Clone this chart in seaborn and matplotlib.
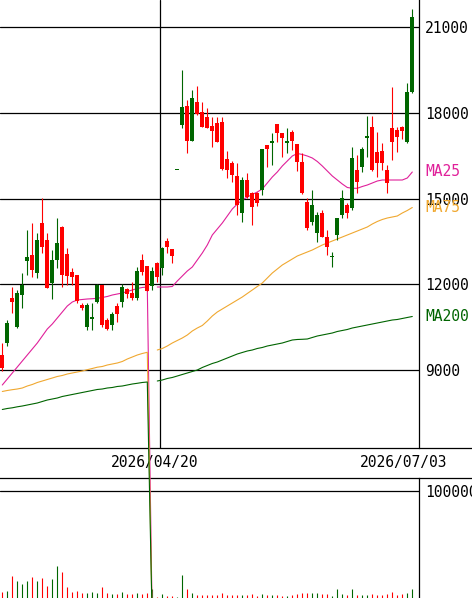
import numpy as np
import pandas as pd
import matplotlib
matplotlib.use("Agg")
import matplotlib.pyplot as plt
import matplotlib.transforms as mtransforms
import seaborn as sns

# ---------------- data ----------------
opens = [9530, 9940, 11536, 10521, 11630, 12830, 13030, 12390, 14140, 13555,
         12060, 12855, 14020, 13065, 12445, 12330, 11280, 10521, 10780, 11396,
         11980, 10755, 10580, 11245, 11396, 11840, 11710, 11515, 12855, 12645,
         11945, 12760, 12565, 13530, 13230, 16005, 17580, 18245, 17030, 18395,
         18045, 17870, 17545, 17660, 17695, 16380, 16260, 15795, 14490, 15655,
         15210, 15210, 15305, 16880, 16940, 17615, 17310, 16960, 17325, 16915,
         16295, 14895, 14195, 13790, 14490, 13670, 12945, 13730, 14430, 14780,
         14665, 16005, 16120, 17130, 17500, 16645, 16680, 16005, 17485, 17405,
         17500, 16995, 18745]
highs = [9950, 10755, 11920, 11805, 12390, 13905, 14140, 13790, 15015, 13790,
         13205, 14335, 14045, 13265, 12575, 12330, 11350, 11340, 11340, 12005,
         11980, 10825, 11045, 11340, 12005, 11875, 12095, 12620, 13055, 12645,
         12620, 12795, 13320, 13615, 13230, 16005, 19505, 18455, 18805, 18945,
         18395, 18165, 17870, 17850, 17870, 16680, 16330, 16240, 15770, 15915,
         15250, 15250, 16730, 16880, 17310, 17615, 17310, 17485, 17405, 16915,
         16590, 15025, 15305, 14535, 14605, 13905, 13145, 14315, 15305, 14850,
         16820, 16530, 16820, 17895, 17895, 17345, 16940, 16180, 18900, 17520,
         17535, 19040, 21630]
lows = [8970, 9845, 11000, 10475, 11165, 12330, 12250, 12215, 13090, 11875,
        11480, 12565, 11920, 11980, 11980, 11340, 11105, 10405, 10405, 11340,
        10521, 10405, 10405, 10695, 11220, 11515, 11455, 11455, 12330, 11770,
        11805, 12095, 12330, 13090, 12760, 16005, 17465, 16610, 17030, 17930,
        17500, 17465, 16820, 16995, 16005, 15715, 15595, 14430, 14195, 15025,
        14080, 14750, 15130, 16120, 16180, 16995, 16470, 16590, 16705, 15980,
        15150, 13905, 14080, 13495, 13670, 13030, 12620, 13555, 14315, 14315,
        14600, 15190, 15945, 16470, 15980, 15770, 16005, 15190, 16355, 16645,
        17100, 16940, 18710]
closes = [9075, 10640, 11396, 11700, 11980, 12970, 12505, 13555, 13300, 11886,
          12855, 13440, 12330, 12295, 12250, 11430, 11165, 11280, 10850, 11980,
          10580, 10430, 10955, 10965, 11920, 11665, 11515, 12480, 12445, 11770,
          12470, 12250, 13265, 13300, 12995, 16005, 18220, 17030, 18515, 17965,
          17520, 17485, 17380, 16995, 16030, 16005, 15830, 14780, 15655, 15070,
          14720, 14840, 16730, 16730, 17030, 17310, 17115, 17020, 17030, 16295,
          15200, 13965, 14780, 14430, 13670, 13320, 12995, 14315, 15015, 14490,
          16415, 15595, 16730, 17180, 16005, 16240, 16240, 15560, 16995, 17170,
          17380, 18745, 21370]
volumes = [5900, 6800, 20600, 16200, 13100, 16200, 19900, 16200, 19000, 11200,
           17800, 29900, 24600, 10600, 6000, 6800, 4400, 5000, 5600, 4400,
           10600, 5000, 3700, 3700, 5600, 3700, 3700, 5000, 3700, 5000,
           8000, 1200, 3700, 1900, 1900, 1200, 21500, 8100, 5000, 3000,
           2500, 2500, 2500, 2500, 5000, 3100, 2500, 3000, 3000, 2500,
           3500, 2000, 3500, 2500, 2500, 3000, 2000, 2000, 3000, 3500,
           4500, 5000, 5000, 4500, 3500, 4000, 2000, 8000, 4000, 2500,
           8000, 3000, 3000, 2500, 4000, 3000, 3000, 3500, 5500, 3000,
           3500, 4500, 8700]
# moving averages (the 0 at index 30 is the data glitch seen in the reference)
ma25 = [8480, 8690, 8900, 9110, 9320, 9530, 9740, 9950, 10195, 10440,
        10615, 10825, 11035, 11245, 11385, 11455, 11473, 11490, 11500, 11515,
        11543, 11578, 11630, 11665, 11700, 11753, 11805, 11858, 11893, 11910,
        0, 11910, 11910, 11910, 11928, 12120, 12295, 12470, 12610, 12855,
        13100, 13380, 13730, 13940, 14150, 14395, 14640, 14815, 14955, 15060,
        15148, 15235, 15340, 15550, 15760, 15935, 16145, 16320, 16495, 16583,
        16548, 16495, 16425, 16303, 16145, 15970, 15795, 15655, 15515, 15393,
        15365, 15365, 15428, 15480, 15550, 15620, 15655, 15655, 15655, 15655,
        15655, 15725, 15935]
ma75 = [8253, 8288, 8316, 8340, 8375, 8445, 8498, 8568, 8620, 8673,
        8725, 8778, 8813, 8865, 8900, 8935, 8970, 9016, 9058, 9103,
        9128, 9180, 9215, 9250, 9303, 9390, 9460, 9530, 9583, 9625,
        0, 9705, 9758, 9845, 9950, 10038, 10125, 10230, 10370, 10475,
        10563, 10720, 10895, 11035, 11140, 11245, 11350, 11455, 11560, 11683,
        11805, 11928, 12050, 12225, 12400, 12540, 12680, 12785, 12890, 12995,
        13065, 13135, 13205, 13293, 13380, 13450, 13520, 13590, 13660, 13730,
        13800, 13870, 13940, 14010, 14115, 14203, 14273, 14325, 14360, 14395,
        14500, 14588, 14693]
ma200 = [7623, 7658, 7682, 7717, 7745, 7780, 7815, 7850, 7903, 7955,
         7990, 8025, 8078, 8113, 8148, 8183, 8218, 8253, 8288, 8323,
         8340, 8375, 8393, 8428, 8445, 8480, 8515, 8540, 8568, 8585,
         0, 8620, 8655, 8708, 8743, 8795, 8848, 8900, 8953, 9005,
         9093, 9163, 9233, 9285, 9355, 9425, 9495, 9565, 9618, 9670,
         9705, 9758, 9793, 9845, 9880, 9915, 9950, 10003, 10055, 10073,
         10080, 10090, 10143, 10195, 10230, 10265, 10300, 10353, 10388, 10423,
         10475, 10510, 10545, 10580, 10615, 10650, 10685, 10720, 10755, 10773,
         10808, 10843, 10878]
ma_names = ["MA25", "MA75", "MA200"]
price_ticks = [9000, 12000, 15000, 18000, 21000]
volume_ticks = [100000]
date_labels = ["2026/04/20", "2026/07/03"]

# ---------------- style / layout ----------------
sns.set_style("white")
plt.rcParams["font.family"] = ["DejaVu Sans Mono", "DejaVu Sans"]
RED = "#ff0000"
GREEN = "#006600"
MA_COLORS = ["#e0209a", "#f0a830", "#006400"]
FS = 10.5

W, H = 472, 598
fig = plt.figure(figsize=(W / 100, H / 100), dpi=100)
fig.patch.set_facecolor("white")


def box(l, t, r, b):
    return [l / W, 1 - b / H, (r - l) / W, (b - t) / H]


ax = fig.add_axes(box(0, 0, 419, 448))
axd = fig.add_axes(box(0, 448, 472, 478))
axv = fig.add_axes(box(0, 478, 419, 598))
for a in (ax, axd, axv):
    a.patch.set_visible(False)
ax.set_zorder(3)

n = len(opens)
idx = np.arange(n)
o = np.array(opens, float)
c = np.array(closes, float)
h = np.array(highs, float)
l = np.array(lows, float)
colors = np.where(c >= o, GREEN, RED)

XL = (-0.46, 83.34)

# ---- price panel ----
ax.set_xlim(*XL)
ax.set_ylim(6275, 21955)
ax.set_yticks(price_ticks)
ax.set_yticklabels([str(t) for t in price_ticks])
ax.yaxis.tick_right()
ax.set_xticks([31.5])
ax.tick_params(axis="x", length=0, labelbottom=False)
ax.tick_params(axis="y", length=0, pad=4.3, labelsize=FS, labelcolor="black")
ax.grid(True, color="black", lw=0.9)
for s in ("top", "left", "bottom"):
    ax.spines[s].set_visible(False)
ax.spines["right"].set_color("black")
ax.spines["right"].set_linewidth(0.9)

df = pd.DataFrame({"idx": idx, "MA25": ma25, "MA75": ma75, "MA200": ma200})
for name, col in zip(ma_names, MA_COLORS):
    vals = df[name].to_numpy()
    g = int(np.where(vals == 0)[0][0]) if (vals == 0).any() else n - 1
    seg1 = df.iloc[: g + 1]
    seg2 = df.iloc[g + 1:]
    for seg in (seg1, seg2):
        if len(seg) > 1:
            sns.lineplot(data=seg, x="idx", y=name, ax=ax, color=col, lw=0.8,
                         clip_on=False, zorder=2, estimator=None, sort=False)
ax.set_xlabel("")
ax.set_ylabel("")

ax.vlines(idx, l, h, colors=colors, lw=0.8, zorder=4)
body_bottom = np.minimum(o, c)
body_h = np.maximum(np.abs(c - o), 40)
ax.bar(idx, body_h, bottom=body_bottom, width=0.8, color=colors, lw=0, zorder=5)

trans = mtransforms.blended_transform_factory(ax.transAxes, ax.transData)
for name, col in zip(ma_names, MA_COLORS):
    ax.text(425 / 419, df[name].iloc[-1], name, transform=trans, color=col,
            fontsize=FS, va="center", ha="left", zorder=6)

# ---- date band ----
axd.set_xlim(XL[0], XL[0] + 472 / 5)
axd.set_ylim(0, 1)
axd.set_xticks([])
axd.set_yticks([])
for s in ("left", "right"):
    axd.spines[s].set_visible(False)
for s in ("top", "bottom"):
    axd.spines[s].set_color("black")
    axd.spines[s].set_linewidth(0.9)
for lab, pos in zip(date_labels, [30.44, 80.34]):
    axd.text(pos, 0.5, lab, ha="center", va="center", fontsize=FS, color="black")

# ---- volume panel ----
axv.set_xlim(*XL)
axv.set_ylim(0, 112150)
axv.vlines(idx, 0, volumes, colors=colors, lw=0.8, zorder=3)
axv.set_yticks(volume_ticks)
axv.set_yticklabels([str(t) for t in volume_ticks])
axv.yaxis.tick_right()
axv.set_xticks([])
axv.tick_params(axis="y", length=0, pad=4.3, labelsize=FS, labelcolor="black")
axv.grid(True, axis="y", color="black", lw=0.9)
for s in ("top", "left", "bottom"):
    axv.spines[s].set_visible(False)
axv.spines["right"].set_color("black")
axv.spines["right"].set_linewidth(0.9)

fig.savefig("out.png", dpi=100, facecolor="white")
